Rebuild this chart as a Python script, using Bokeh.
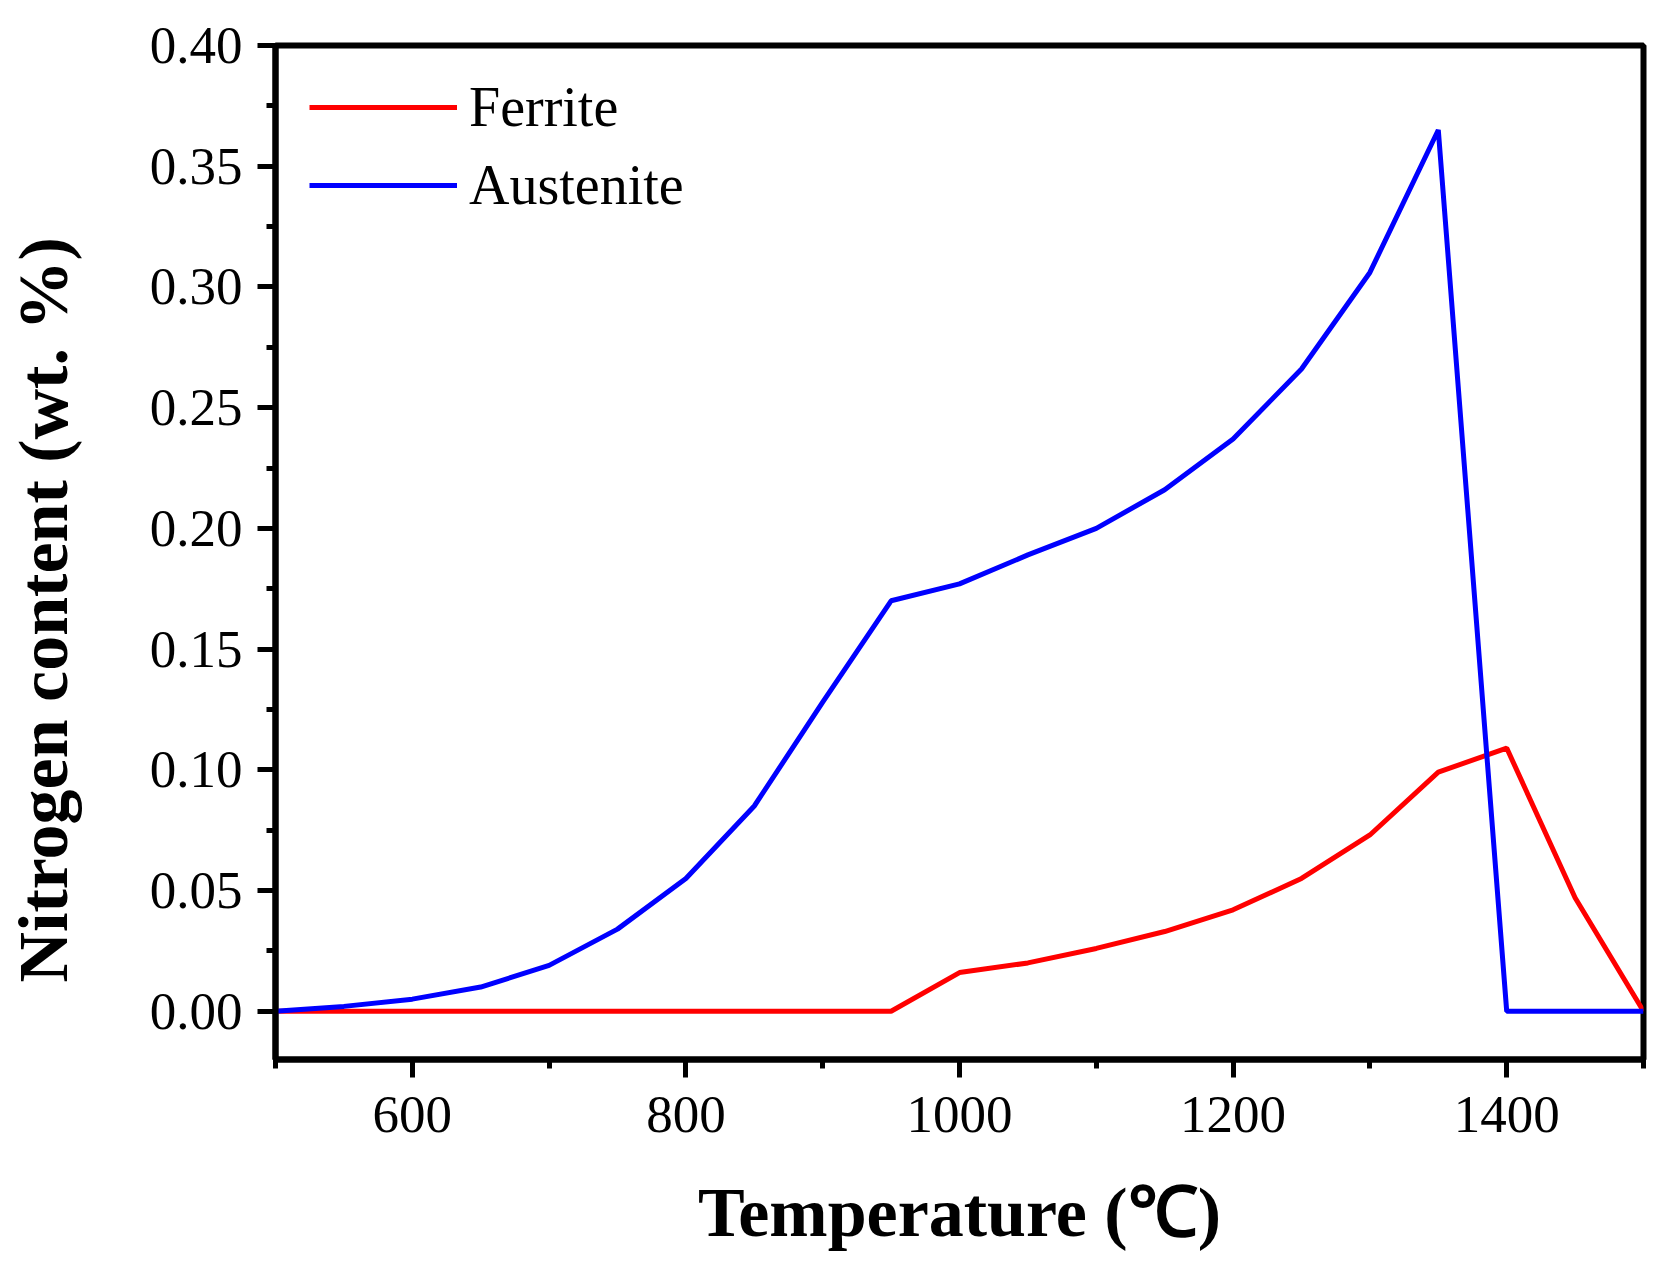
from bokeh.plotting import figure
from bokeh.models import FixedTicker, PrintfTickFormatter, Range1d, Title
from bokeh.embed import file_html
from bokeh.resources import INLINE

# ---- data ----
temperature = [500, 550, 600, 650, 700, 750, 800, 850, 900, 950, 1000,
               1050, 1100, 1150, 1200, 1250, 1300, 1350, 1400, 1450, 1500]
ferrite = [0.000, 0.000, 0.000, 0.000, 0.000, 0.000, 0.000, 0.000, 0.000, 0.000, 0.016,
           0.020, 0.026, 0.033, 0.042, 0.055, 0.073, 0.099, 0.109, 0.047, 0.000]
austenite = [0.000, 0.002, 0.005, 0.010, 0.019, 0.034, 0.055, 0.085, 0.128, 0.170, 0.177,
             0.189, 0.200, 0.216, 0.237, 0.266, 0.306, 0.365, 0.000, 0.000, 0.000]

x_major = [600, 800, 1000, 1200, 1400]
x_minor = [500, 700, 900, 1100, 1300, 1500]
y_major = [0.00, 0.05, 0.10, 0.15, 0.20, 0.25, 0.30, 0.35, 0.40]
y_minor = [0.025, 0.075, 0.125, 0.175, 0.225, 0.275, 0.325, 0.375]

x_title = "Temperature (\u2103)"
y_title = "Nitrogen content (wt. %)"

FONT = "Liberation Serif"

p = figure(width=1649, height=1253, output_backend="svg", toolbar_location=None,
           x_range=Range1d(500, 1500), y_range=Range1d(-0.02, 0.40),
           min_border_left=275, min_border_right=6, min_border_top=45,
           min_border_bottom=150)

p.background_fill_color = "white"
p.border_fill_color = "white"
p.xgrid.visible = False
p.ygrid.visible = False
p.outline_line_color = "black"
p.outline_line_width = 6
p.outline_line_alpha = 1.0

p.line(temperature, ferrite, line_color="#ff0000", line_width=5, legend_label="Ferrite")
p.line(temperature, austenite, line_color="#0000ff", line_width=5, legend_label="Austenite")

for ax in (p.xaxis[0], p.yaxis[0]):
    ax.axis_line_width = 6
    ax.axis_line_color = "black"
    ax.major_tick_line_width = 5
    ax.minor_tick_line_width = 5
    ax.major_tick_in = 0
    ax.major_tick_out = 18
    ax.minor_tick_in = 0
    ax.minor_tick_out = 9
    ax.major_label_text_font = FONT
    ax.major_label_text_font_size = "53px"
    ax.major_label_text_color = "black"
    ax.axis_label_text_color = "black"

p.xaxis[0].axis_label_text_font = FONT
p.xaxis[0].axis_label_text_font_size = "70px"
p.xaxis[0].axis_label_text_font_style = "bold"

p.xaxis[0].ticker = FixedTicker(ticks=x_major, minor_ticks=x_minor)
p.yaxis[0].ticker = FixedTicker(ticks=y_major, minor_ticks=y_minor)
p.yaxis[0].formatter = PrintfTickFormatter(format="%.2f")
p.xaxis[0].axis_label = x_title
p.xaxis[0].major_label_standoff = 19
p.yaxis[0].major_label_standoff = 15
p.xaxis[0].axis_label_standoff = 39

# spacer between the y tick labels and the y title
p.yaxis[0].axis_label = " "
p.yaxis[0].axis_label_text_font_size = "1px"
p.yaxis[0].axis_label_standoff = 60

ytitle = Title(text=y_title, align="left", offset=77, standoff=2,
               vertical_align="bottom",
               text_font=FONT, text_font_size="70px", text_font_style="bold",
               text_color="black")
p.add_layout(ytitle, "left")

lg = p.legend[0]
lg.location = (34, 842)
lg.padding = 0
lg.margin = 0
lg.spacing = 14
lg.border_line_alpha = 0
lg.background_fill_alpha = 0
lg.glyph_width = 148
lg.glyph_height = 64
lg.label_height = 64
lg.label_standoff = 12
lg.label_text_font = FONT
lg.label_text_font_size = "56px"
lg.label_text_color = "black"

open("out.html", "w").write(file_html(p, INLINE))
